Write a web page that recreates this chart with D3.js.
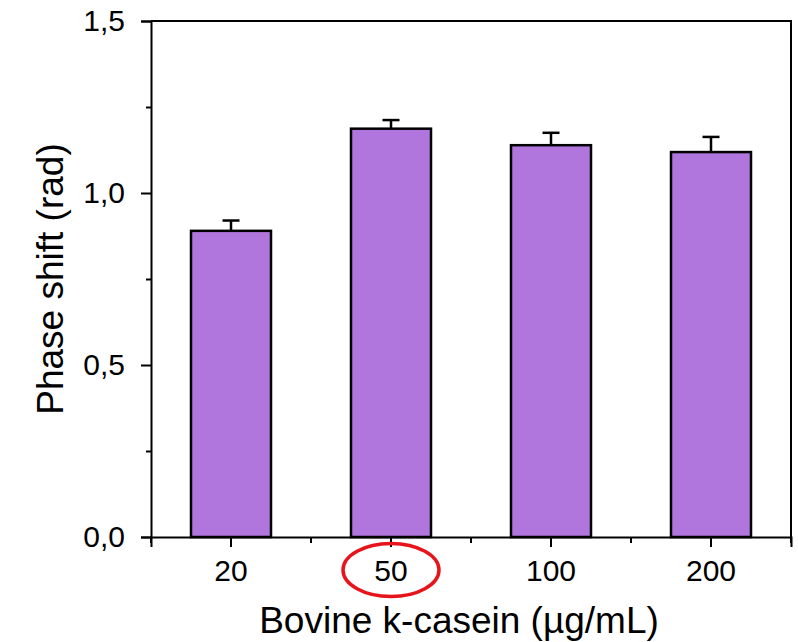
<!DOCTYPE html>
<html>
<head>
<meta charset="utf-8">
<script src="https://cdn.jsdelivr.net/npm/d3@7"></script>
<style>
  html, body { margin: 0; padding: 0; background: #fff; }
  svg { display: block; font-family: Arial, "Liberation Sans", sans-serif; }
</style>
</head>
<body>
<div id="chart"></div>
<script>
// Phase shift vs bovine k-casein concentration
const categories = ['20', '50', '100', '200'];
const values = [0.89, 1.187, 1.139, 1.119];
const errors = [0.03, 0.025, 0.036, 0.044];
const yTicks = [0, 0.5, 1.0, 1.5];
const yMinorTicks = [0.25, 0.75, 1.25];
const highlighted = '50';

const width = 798, height = 642;
const margin = { top: 21, right: 7, bottom: 105, left: 151 };

const svg = d3.select('#chart').append('svg')
  .attr('width', width)
  .attr('height', height);

const x = d3.scaleBand()
  .domain(categories)
  .range([margin.left, width - margin.right])
  .paddingInner(0.5)
  .paddingOuter(0.25);

const y = d3.scaleLinear()
  .domain([0, 1.5])
  .range([height - margin.bottom, margin.top]);

const fmt = d => d3.format('.1f')(d).replace('.', ',');

// bars
svg.append('g').selectAll('rect')
  .data(values)
  .join('rect')
  .attr('x', (d, i) => x(categories[i]))
  .attr('y', d => y(d))
  .attr('width', x.bandwidth())
  .attr('height', d => y(0) - y(d))
  .attr('fill', '#b076de')
  .attr('stroke', '#000')
  .attr('stroke-width', 2.5);

// error bars (upper only)
const eb = svg.append('g').attr('stroke', '#000').attr('stroke-width', 2.5);
values.forEach((v, i) => {
  const cx = x(categories[i]) + x.bandwidth() / 2;
  eb.append('line')
    .attr('x1', cx).attr('x2', cx)
    .attr('y1', y(v)).attr('y2', y(v + errors[i]));
  eb.append('line')
    .attr('x1', cx - 8.5).attr('x2', cx + 8.5)
    .attr('y1', y(v + errors[i])).attr('y2', y(v + errors[i]));
});

// frame (top + right)
const [x0, x1] = [margin.left, width - margin.right];
const [yb, yt] = [y(0), y(1.5)];
svg.append('path')
  .attr('d', `M${x0},${yt}H${x1}V${yb}`)
  .attr('fill', 'none')
  .attr('stroke', '#000')
  .attr('stroke-width', 2);

// y axis
svg.append('g')
  .attr('transform', `translate(${x0},0)`)
  .call(d3.axisLeft(y).tickValues(yTicks).tickFormat(fmt).tickSize(10).tickPadding(16));
svg.append('g')
  .attr('transform', `translate(${x0},0)`)
  .call(d3.axisLeft(y).tickValues(yMinorTicks).tickFormat('').tickSize(5))
  .call(g => g.select('.domain').remove());

// x axis: major ticks at category centres, minor at band edges
svg.append('g')
  .attr('transform', `translate(0,${yb})`)
  .call(d3.axisBottom(x).tickSize(10).tickPadding(13));
const step = x.step();
const edges = d3.range(categories.length + 1).map(i => x0 + i * step);
svg.append('g').selectAll('line')
  .data(edges)
  .join('line')
  .attr('x1', d => d).attr('x2', d => d)
  .attr('y1', yb).attr('y2', yb + 6)
  .attr('stroke', '#000').attr('stroke-width', 2);

svg.selectAll('.domain').attr('stroke-width', 2);
svg.selectAll('.tick line').attr('stroke-width', 2);
svg.selectAll('.tick text').attr('font-size', 30).attr('fill', '#000')
  .attr('font-family', 'Arial, "Liberation Sans", sans-serif');

// axis titles
svg.append('text')
  .attr('x', 459)
  .attr('y', 633)
  .attr('text-anchor', 'middle')
  .attr('font-size', 37)
  .text('Bovine k-casein (µg/mL)');

svg.append('text')
  .attr('transform', `translate(63,${(yb + yt) / 2}) rotate(-90)`)
  .attr('text-anchor', 'middle')
  .attr('font-size', 37)
  .text('Phase shift (rad)');

// highlight ring around the chosen concentration
svg.append('ellipse')
  .attr('cx', x(highlighted) + x.bandwidth() / 2)
  .attr('cy', 570)
  .attr('rx', 48)
  .attr('ry', 26.5)
  .attr('fill', 'none')
  .attr('stroke', '#e8141b')
  .attr('stroke-width', 3.5);
</script>
</body>
</html>
